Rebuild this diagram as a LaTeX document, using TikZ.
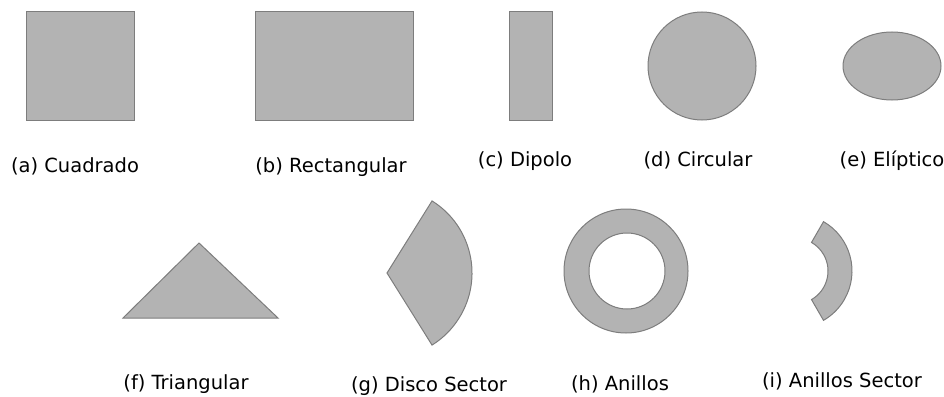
\documentclass[tikz,border=0pt]{standalone}
\usepackage{fontspec}
\setmainfont{DejaVu Sans}
\definecolor{shapefill}{RGB}{179,179,179}
\definecolor{shapeedge}{RGB}{125,125,125}
\begin{document}
\begin{tikzpicture}[x=1pt,y=-1pt,
  shp/.style={fill=shapefill,draw=shapeedge,line width=1pt},
  lbl/.style={font=\fontsize{19.5}{22}\selectfont,inner sep=0pt,anchor=base}]
\useasboundingbox (0,0) rectangle (944,396);
% row 1 shapes
\draw[shp] (26,12) rectangle (134,120);
\draw[shp] (255,12) rectangle (413,120);
\draw[shp] (509,12) rectangle (552,120);
\draw[shp] (702,66) circle (54);
\draw[shp] (892,66) ellipse (49 and 34);
% row 2 shapes
\draw[shp] (123,318) -- (199,243) -- (278,318) -- cycle;
\draw[shp] (387,273) -- ++(-58:85) arc (-58:58:85) -- cycle;
\draw[shp,even odd rule] (626,271) circle (62) (627,271) circle (38);
\draw[shp] (795,271) ++(-60:57) arc (-60:60:57) -- ([shift={(795,271)}]60:33) arc (60:-60:33) -- cycle;
% labels
\node[lbl] (la) at (75,172) {(a) Cuadrado};
\node[lbl] (lb) at (331,172) {(b) Rectangular};
\node[lbl] (lc) at (525,166) {(c) Dipolo};
\node[lbl] (ld) at (698,166) {(d) Circular};
\node[lbl] (le) at (892,166) {(e) Elíptico};
\node[lbl] (lf) at (186,389) {(f) Triangular};
\node[lbl] (lg) at (429,391) {(g) Disco Sector};
\node[lbl] (lh) at (620,390) {(h) Anillos};
\node[lbl] (li) at (842,387) {(i) Anillos Sector};
\end{tikzpicture}
\end{document}
